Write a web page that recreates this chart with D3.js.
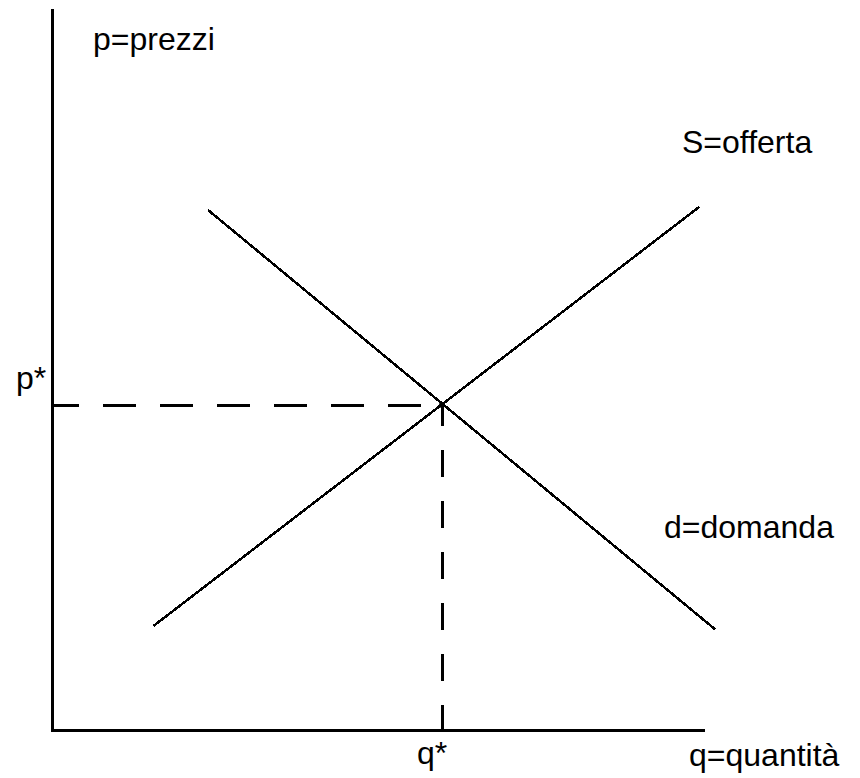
<!DOCTYPE html>
<html>
<head>
<meta charset="utf-8">
<script src="https://cdn.jsdelivr.net/npm/d3@7"></script>
<style>
    body { margin: 0; background: #fff; }
    text { font-family: "Liberation Sans", Arial, sans-serif; font-size: 32px; fill: #000; }
</style>
</head>
<body>
<div id="chart"></div>
<script>
// domanda / offerta (valori in unita' arbitrarie)
var supplyQ = [13, 83];
var supplyP = [16, 80.5];
var demandQ = [20, 85];
var demandP = [80, 15.5];
var qStar = 50;
var pStar = 50;
var qMax = 83.7;
var pMax = 111;

var labels = ["p=prezzi", "S=offerta", "p*", "d=domanda", "q*", "q=quantità"];

function init() {
    const w = 860;
    const h = 778;

    var x = d3.scaleLinear().domain([0, 100]).range([52, 832]);
    var y = d3.scaleLinear().domain([0, 100]).range([730, 80]);

    var svg = d3.select("#chart")
        .append("svg")
        .attr("width", w)
        .attr("height", h);

    var line = d3.line()
        .x(function (d) { return x(d[0]); })
        .y(function (d) { return y(d[1]); });

    // assi
    svg.append("path")
        .attr("d", line([[0, pMax], [0, 0], [qMax, 0]]))
        .attr("fill", "none")
        .attr("stroke", "#000")
        .attr("stroke-width", 3)
        .attr("shape-rendering", "crispEdges");

    // linee tratteggiate di equilibrio
    svg.append("path")
        .attr("d", line([[0, pStar], [qStar, pStar]]))
        .attr("stroke", "#000")
        .attr("stroke-width", 3)
        .attr("stroke-dasharray", "33 24")
        .attr("stroke-dashoffset", 6)
        .attr("shape-rendering", "crispEdges");

    svg.append("path")
        .attr("d", line([[qStar, pStar], [qStar, 0]]))
        .attr("stroke", "#000")
        .attr("stroke-width", 3)
        .attr("stroke-dasharray", "27 24")
        .attr("stroke-dashoffset", 6)
        .attr("shape-rendering", "crispEdges");

    // curve
    var curves = [d3.zip(supplyQ, supplyP), d3.zip(demandQ, demandP)];
    svg.selectAll("path.curve")
        .data(curves)
        .enter()
        .append("path")
        .attr("class", "curve")
        .attr("d", line)
        .attr("fill", "none")
        .attr("stroke", "#000")
        .attr("stroke-width", 2.5)
        .attr("shape-rendering", "crispEdges");

    svg.append("circle")
        .attr("cx", x(qStar))
        .attr("cy", y(pStar))
        .attr("r", 3)
        .attr("fill", "#000");

    ///Etichette
    var pos = [[93, 50], [682, 153], [16, 389], [664, 538], [417, 764], [689, 766]];
    svg.selectAll("text.lbl")
        .data(labels)
        .enter()
        .append("text")
        .attr("class", "lbl")
        .attr("x", function (d, i) { return pos[i][0]; })
        .attr("y", function (d, i) { return pos[i][1]; })
        .text(function (d) { return d; });
}
window.onload = init();
</script>
</body>
</html>
